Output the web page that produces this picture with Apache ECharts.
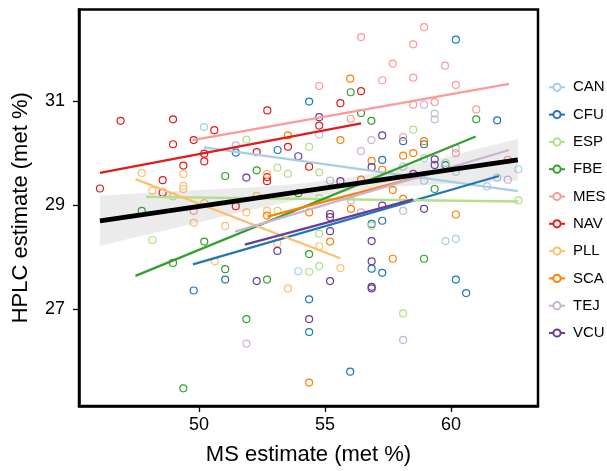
<!DOCTYPE html>
<html><head><meta charset="utf-8">
<script src="https://cdn.jsdelivr.net/npm/echarts@6/dist/echarts.min.js"></script>
<style>html,body{margin:0;padding:0;background:#fff}#c{width:607px;height:471px}</style>
</head><body><div id="c"></div>
<script>
const groups = ['CAN','CFU','ESP','FBE','MES','NAV','PLL','SCA','TEJ','VCU'];
const groupColors = ['#a6cee3','#1f78b4','#b2df8a','#33a02c','#fb9a99','#e31a1c','#fdbf6f','#ff7f00','#cab2d6','#6a3d9a'];
const xTicks = [50, 55, 60];
const yTicks = [27, 29, 31];

// observed points [MS estimate, HPLC estimate]
const CAN = [[50.2,30.50],[54.77,30.36],[59.35,30.76],[58.1,29.74],[58.93,29.90],[60.19,29.64],[62.67,29.69],[61.83,29.53],[61.42,29.36],[58.93,29.47],[59.78,28.31],[60.19,28.35],[53.94,27.73]];
const CFU = [[54.37,30.99],[53.12,30.06],[60.19,32.18],[61.83,30.63],[58.1,30.23],[58.93,30.17],[57.27,29.87],[59.78,29.77],[57.27,28.70],[56.85,28.64],[56.85,27.78],[57.27,27.70],[60.19,27.57],[60.6,27.31],[54.37,27.19],[54.37,26.56],[56.0,25.80],[49.79,27.36],[51.46,30.01],[51.04,27.57]];
const ESP = [[51.88,30.26],[54.37,30.12],[58.5,30.45],[59.78,29.81],[62.67,29.09],[56.85,28.60],[58.1,26.92],[48.97,29.17],[48.15,28.33],[53.11,29.72],[53.53,29.60],[54.77,29.63],[53.12,28.89],[54.77,29.13],[54.77,28.45],[54.77,27.83],[54.37,27.72]];
const FBE = [[56.02,31.17],[56.43,30.77],[56.84,30.62],[61.0,30.65],[59.35,29.31],[58.93,27.97],[51.88,26.81],[49.38,25.48],[47.73,28.89],[50.21,28.30],[48.97,27.89],[51.04,29.56],[52.29,29.67],[53.94,29.23],[54.37,28.06],[51.04,27.77],[52.7,27.57]];
const MES = [[56.43,32.23],[54.77,31.29],[56.02,30.66],[58.93,32.42],[58.5,32.09],[57.69,31.72],[59.76,31.68],[57.27,31.40],[58.5,31.45],[60.19,31.31],[58.5,30.93],[59.35,30.98],[61.0,30.84],[58.1,30.31],[60.19,30.0],[62.25,29.87],[49.79,28.89]];
const NAV = [[46.89,30.62],[48.97,30.65],[48.97,30.17],[49.79,30.25],[50.61,30.44],[56.43,31.19],[55.61,30.96],[52.71,30.82],[54.77,30.53],[53.53,30.12],[52.29,30.02],[50.21,29.99],[50.21,29.84],[49.38,29.76],[48.56,29.48],[48.56,29.24],[46.07,29.32],[54.37,29.74],[52.7,29.54],[52.7,29.46],[51.46,28.98]];
const PLL = [[47.73,29.62],[49.38,29.60],[49.38,29.37],[49.38,29.31],[48.15,29.28],[50.21,29.04],[49.79,28.66],[50.63,27.92],[52.7,29.60],[52.29,29.18],[51.88,28.86],[52.7,28.89],[51.04,28.60],[53.11,28.27],[54.77,28.21],[55.61,27.79],[53.53,27.40]];
const SCA = [[56.0,31.43],[53.53,30.34],[55.61,30.25],[58.93,30.23],[58.1,29.95],[58.5,30.0],[56.85,29.85],[57.27,29.68],[57.69,29.29],[58.1,29.12],[60.19,28.82],[57.69,27.97],[54.37,25.59],[56.43,29.49],[52.7,28.80],[54.37,28.86],[56.03,28.93],[55.2,28.30]];
const TEJ = [[56.84,30.25],[51.46,30.15],[56.43,30.04],[58.93,30.93],[59.35,30.65],[60.19,30.09],[62.25,29.49],[58.1,28.89],[58.1,26.41],[51.88,26.34],[55.2,29.47],[56.03,29.09],[56.43,28.86]];
const VCU = [[53.94,29.94],[54.77,30.69],[57.27,30.34],[56.85,29.73],[59.35,29.88],[59.35,29.77],[58.5,29.60],[57.27,28.99],[58.93,28.93],[56.85,28.31],[56.85,27.92],[56.85,27.43],[56.85,27.40],[54.37,26.81],[51.88,29.53],[55.61,29.46],[55.2,28.83],[55.2,28.77],[55.2,28.50],[53.11,28.12],[52.29,27.54],[55.2,27.54]];

// per-group fitted lines (start, end)
const fitCAN = [[50.2,30.11],[62.65,29.27]];
const fitCFU = [[49.76,27.86],[61.9,29.56]];
const fitESP = [[47.9,29.16],[62.68,29.07]];
const fitFBE = [[47.48,27.64],[60.98,30.32]];
const fitMES = [[49.75,30.25],[62.3,31.33]];
const fitNAV = [[46.07,29.62],[56.43,30.57]];
const fitPLL = [[47.48,29.50],[55.6,27.98]];
const fitSCA = [[52.72,28.78],[60.19,29.73]];
const fitTEJ = [[51.43,28.49],[62.3,30.06]];
const fitVCU = [[51.82,28.24],[58.5,29.11]];

// overall fit and confidence band
const fitAll = [[46.07,28.70],[62.65,29.87]];
const bandX = [46.07,48,50,52,54,56,58,60,62.65];
const bandLower = [28.22,28.44,28.67,28.90,29.11,29.27,29.36,29.41,29.47];
const bandUpper = [29.18,29.24,29.29,29.34,29.41,29.53,29.72,29.95,30.27];

const points = {CAN,CFU,ESP,FBE,MES,NAV,PLL,SCA,TEJ,VCU};
const fits = {CAN:fitCAN,CFU:fitCFU,ESP:fitESP,FBE:fitFBE,MES:fitMES,NAV:fitNAV,PLL:fitPLL,SCA:fitSCA,TEJ:fitTEJ,VCU:fitVCU};

const FONT = 'Liberation Sans, Arial, Helvetica, sans-serif';
const series = [];
groups.forEach((g, i) => {
  series.push({
    name: g, type: 'line', data: fits[g], symbol: 'emptyCircle', showSymbol: false,
    itemStyle: {color: groupColors[i]},
    lineStyle: {color: groupColors[i], width: 2.3}, z: 4, silent: true
  });
});
groups.forEach((g, i) => {
  series.push({
    name: g, type: 'scatter', data: points[g], symbol: 'circle', symbolSize: 7,
    itemStyle: {color: 'rgba(0,0,0,0)', borderColor: groupColors[i], borderWidth: 1.2, opacity: 1},
    z: 2, silent: true
  });
});
series.push({
  name: 'band', type: 'custom', silent: true, z: 3,
  data: bandX.map((x, k) => [x, bandLower[k], bandUpper[k]]),
  encode: {x: 0, y: [1, 2]},
  renderItem: function (params, api) {
    if (params.dataIndex !== 0) return null;
    const pts = [];
    for (let k = 0; k < bandX.length; k++) pts.push(api.coord([bandX[k], bandUpper[k]]));
    for (let k = bandX.length - 1; k >= 0; k--) pts.push(api.coord([bandX[k], bandLower[k]]));
    return {type: 'polygon', shape: {points: pts}, style: {fill: 'rgba(120,120,120,0.15)', stroke: 'none'}};
  }
});
series.push({
  name: 'all', type: 'line', data: fitAll, symbol: 'none', silent: true,
  lineStyle: {color: '#000', width: 4.8}, z: 5
});

const chart = echarts.init(document.getElementById('c'), null, {renderer: 'canvas'});
chart.setOption({
  animation: false,
  textStyle: {fontFamily: FONT},
  grid: {left: 79, right: 69, top: 9.5, bottom: 63.3, show: true, borderColor: '#000', borderWidth: 2.5, backgroundColor: 'transparent'},
  xAxis: {
    type: 'value', min: 45.24, max: 63.45,
    name: 'MS estimate (met %)', nameLocation: 'middle', nameGap: 38,
    nameTextStyle: {fontSize: 22, color: '#000', fontFamily: FONT},
    axisLine: {show: true, lineStyle: {color: '#000', width: 2.5}},
    axisTick: {show: true, length: 6, customValues: xTicks, lineStyle: {color: '#000', width: 1.3}},
    axisLabel: {customValues: xTicks, fontSize: 18, color: '#000', margin: 10, fontFamily: FONT},
    splitLine: {show: false}
  },
  yAxis: {
    type: 'value', min: 25.14, max: 32.76,
    name: 'HPLC estimate (met %)', nameLocation: 'middle', nameGap: 47,
    nameTextStyle: {fontSize: 22, color: '#000', fontFamily: FONT},
    axisLine: {show: true, lineStyle: {color: '#000', width: 2.5}},
    axisTick: {show: true, length: 6, customValues: yTicks, lineStyle: {color: '#000', width: 1.3}},
    axisLabel: {customValues: yTicks, fontSize: 18, color: '#000', margin: 14, fontFamily: FONT},
    splitLine: {show: false}
  },
  legend: {
    data: groups, orient: 'vertical', left: 548, top: 79.8, padding: 0,
    itemWidth: 16, itemHeight: 9, itemGap: 12.3,
    textStyle: {fontSize: 15, color: '#000', fontFamily: FONT, lineHeight: 15, padding: [0,0,0,3]},
    selectedMode: false
  },
  series: series
});
</script>
</body></html>
